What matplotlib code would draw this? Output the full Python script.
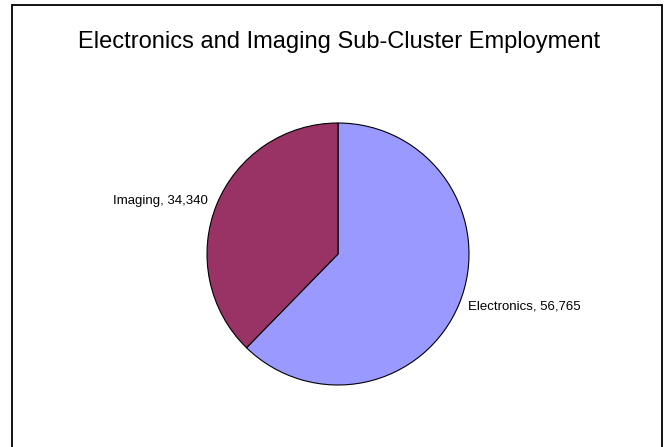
import matplotlib
matplotlib.use("Agg")
import matplotlib.pyplot as plt
from matplotlib.patches import Rectangle

plt.rcParams['font.family'] = ['Liberation Sans', 'DejaVu Sans']

title = "Electronics and Imaging Sub-Cluster Employment"
categories = ["Electronics", "Imaging"]
values = [56765, 34340]
colors = ["#9999FF", "#993366"]

W, H = 668, 447
fig = plt.figure(figsize=(W / 100, H / 100), dpi=100)
fig.patch.set_facecolor("white")

# outer border
fig.add_artist(Rectangle((12 / W, -0.05), (662 - 12) / W, 1.05 - 5 / H,
                         transform=fig.transFigure, fill=False,
                         edgecolor="black", linewidth=1.3, clip_on=False))

fig.text(339 / W, 1 - 42 / H, title, ha="center", va="center", fontsize=17)

cx, cy, r = 338, 254, 131
ax = fig.add_axes([(cx - r) / W, (H - cy - r) / H, 2 * r / W, 2 * r / H])
labels = [f"{c}, {v:,}" for c, v in zip(categories, values)]
wedges, texts = ax.pie(values, labels=labels, colors=colors, startangle=90,
                       counterclock=False, labeldistance=1.07,
                       wedgeprops=dict(edgecolor="black", linewidth=0.8),
                       textprops=dict(fontsize=9.5))
ax.set_xlim(-1, 1)
ax.set_ylim(-1, 1)
ax.set_aspect("equal")

fig.savefig("out.png", dpi=100)
